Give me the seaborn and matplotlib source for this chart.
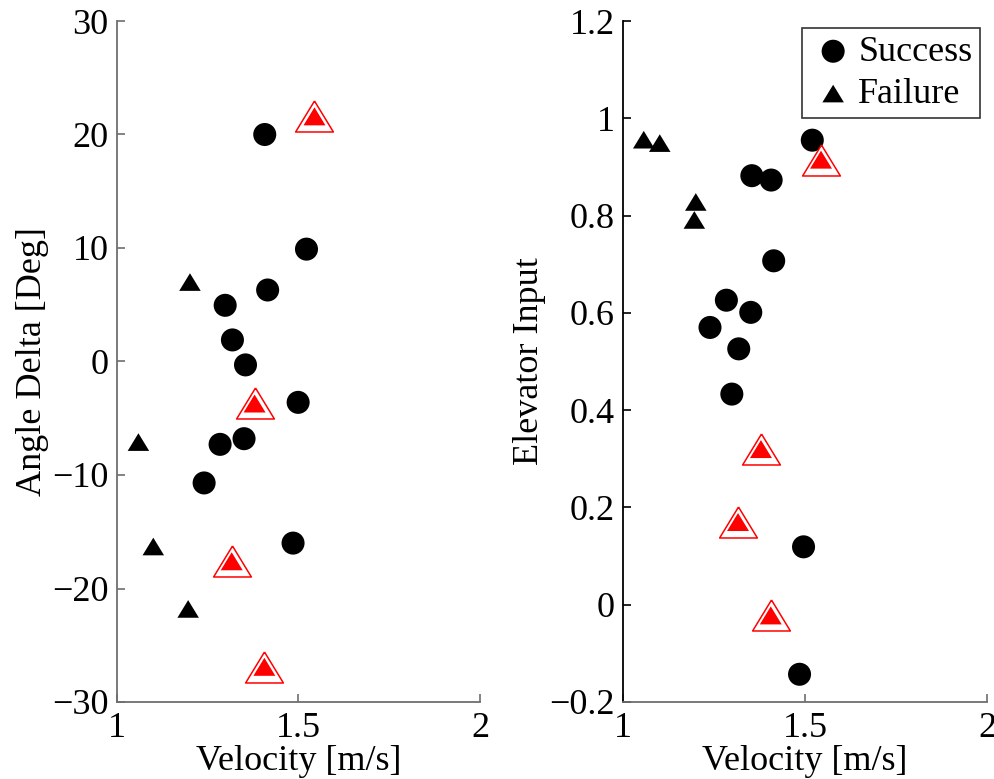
import numpy as np
import pandas as pd
import matplotlib
matplotlib.use("Agg")
import matplotlib.pyplot as plt
import seaborn as sns

sns.set_theme(style="white")
plt.rcParams['font.family'] = ['Liberation Serif', 'DejaVu Serif']
plt.rcParams['axes.unicode_minus'] = True
plt.rcParams['text.color'] = 'black'
plt.rcParams['axes.labelcolor'] = 'black'
plt.rcParams['xtick.labelcolor'] = 'black'
plt.rcParams['ytick.labelcolor'] = 'black'

# ---- data ----
succ_vel_left = [1.407, 1.522, 1.415, 1.298, 1.318, 1.354, 1.499, 1.350, 1.284, 1.240, 1.485]
succ_angle = [20.0, 9.9, 6.3, 4.95, 1.9, -0.3, -3.6, -6.8, -7.3, -10.7, -16.0]

fail_vel = [1.201, 1.059, 1.100, 1.196]
fail_angle = [7.0, -7.1, -16.3, -21.8]

sel_vel = [1.544, 1.379, 1.316, 1.406]
sel_angle = [21.6, -3.7, -17.6, -26.9]

succ_vel_right = [1.520, 1.354, 1.407, 1.414, 1.284, 1.351, 1.239, 1.318, 1.299, 1.496, 1.485]
succ_elev = [0.955, 0.882, 0.873, 0.707, 0.626, 0.601, 0.570, 0.526, 0.433, 0.119, -0.143]

fail_vel_right = [1.057, 1.101, 1.200, 1.196]
fail_elev = [0.956, 0.949, 0.828, 0.791]

sel_elev = [0.915, 0.320, 0.170, -0.022]

left_yticks = [-30, -20, -10, 0, 10, 20, 30]
right_yticks = [-0.2, 0, 0.2, 0.4, 0.6, 0.8, 1.0, 1.2]
right_yticklabels = ["\u22120.2", "0", "0.2", "0.4", "0.6", "0.8", "1", "1.2"]
xticks = [1, 1.5, 2]
xticklabels = ["1", "1.5", "2"]

tri = [(0, 0.82), (-1, -0.82), (1, -0.82), (0, 0.82)]
FS = 26

fig = plt.figure(figsize=(9.95, 7.79), dpi=100)
axL = fig.add_axes([117/995, 1-702/779, (480-117)/995, (702-21)/779])
axR = fig.add_axes([623/995, 1-702/779, (987-623)/995, (702-21)/779])


def draw(ax, sx, sy, fx, fy, rx, ry, legend):
    sns.scatterplot(x=sx, y=sy, ax=ax, color='black', marker='o', s=275,
                    edgecolor='none', linewidth=0, label='Success', zorder=3)
    sns.scatterplot(x=fx, y=fy, ax=ax, color='black', marker=tri, s=240,
                    edgecolor='none', linewidth=0, label='Failure', zorder=3)
    sns.scatterplot(x=rx, y=ry, ax=ax, marker=tri, s=740, color='white',
                    edgecolor='red', linewidth=1.1, zorder=4, legend=False)
    sns.scatterplot(x=rx, y=ry, ax=ax, color='red', marker=tri, s=250,
                    edgecolor='none', linewidth=0, zorder=5, legend=False)
    if legend:
        leg = ax.legend(loc='upper right', fontsize=FS, frameon=True, fancybox=False,
                        edgecolor='black', borderpad=0.2, handletextpad=0.05,
                        labelspacing=0.25, borderaxespad=0.2, handlelength=1.3,
                        markerscale=1.0, labelcolor='black')
        leg.get_frame().set_linewidth(1.2)
    else:
        ax.get_legend().remove()


draw(axL, succ_vel_left, succ_angle, fail_vel, fail_angle, sel_vel, sel_angle, False)
draw(axR, succ_vel_right, succ_elev, fail_vel_right, fail_elev, sel_vel, sel_elev, True)

for ax in (axL, axR):
    ax.set_xlim(1, 2)
    ax.set_xticks(xticks)
    ax.set_xticklabels(xticklabels)
    ax.spines['top'].set_visible(False)
    ax.spines['right'].set_visible(False)
    ax.spines['bottom'].set_color('#6e6e6e')
    ax.spines['bottom'].set_linewidth(1.3)
    ax.spines['left'].set_linewidth(1.3)
    ax.tick_params(direction='in', length=6, width=1.2, colors='#6e6e6e',
                   labelcolor='black', labelsize=FS, left=True, bottom=True)
    ax.tick_params(axis='x', pad=7)
    ax.tick_params(axis='y', pad=6)
    ax.set_xlabel('Velocity [m/s]', fontsize=FS, labelpad=0, color='black')
    ax.set_facecolor('white')

axL.spines['left'].set_color('#6e6e6e')
axR.spines['left'].set_color('black')
axR.tick_params(axis='y', colors='black', labelcolor='black')

axL.set_ylim(-30, 30)
axL.set_yticks(left_yticks)
axL.set_ylabel('Angle Delta [Deg]', fontsize=FS, labelpad=2, color='black')

axR.set_ylim(-0.2, 1.2)
axR.set_yticks(right_yticks)
axR.set_yticklabels(right_yticklabels)
axR.set_ylabel('Elevator Input', fontsize=FS, labelpad=2, color='black')

fig.savefig('out.png', dpi=100, facecolor='white')
